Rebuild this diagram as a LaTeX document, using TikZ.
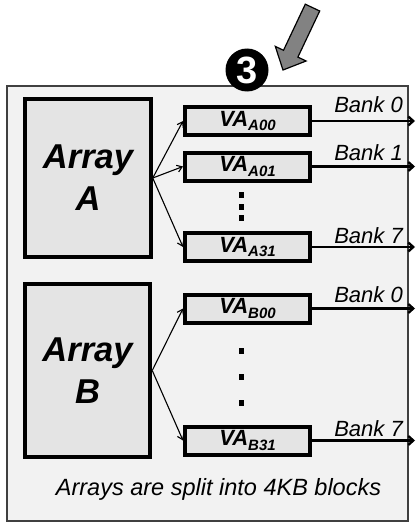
\documentclass[tikz,border=0pt]{standalone}
\usepackage{fontspec}
\setmainfont{Liberation Sans}
\usetikzlibrary{arrows.meta}
\definecolor{panelgray}{RGB}{242,242,242}
\definecolor{blockgray}{RGB}{228,228,228}
\definecolor{pointergray}{RGB}{130,130,130}
\newcommand{\vablock}[1]{{\fontsize{22}{22}\selectfont VA}\raisebox{-4.5pt}{\fontsize{15}{15}\selectfont #1}}

\begin{document}
\begin{tikzpicture}[x=1pt, y=-1pt,
		array/.style={draw=black, fill=blockgray, line width=4pt, minimum width=125.5pt,
			inner sep=0pt, align=center, font=\fontsize{34.5}{42}\selectfont\bfseries\itshape},
		vabox/.style={draw=black, fill=blockgray, line width=4pt, minimum width=125pt,
			minimum height=28pt, inner sep=0pt, font=\bfseries\itshape},
		fan/.style={-{Straight Barb[length=5pt,width=7pt]}, line width=1.1pt},
		bank/.style={-{Straight Barb[length=5pt,width=9pt]}, line width=2.3pt},
		banklabel/.style={anchor=base east, inner sep=0pt, font=\fontsize{22}{24}\selectfont\itshape},
		vdot/.style={fill=black, minimum width=5pt, minimum height=6.5pt, inner sep=0pt}
	]
		\useasboundingbox (0,0) rectangle (415,527);
		\draw[draw=black!75, fill=panelgray, line width=1.2pt] (7,86) rectangle (408,521);
		\node[circle, fill=black, minimum size=43pt, inner sep=0pt, text=white,
			font=\fontsize{38}{38}\selectfont\bfseries] (badge) at (247,70) {3};
		\draw[fill=pointergray, line width=1.2pt] (283,70) -- (306.1,61) -- (297.9,57.1) -- (319.7,11)
			-- (305.3,4.2) -- (283.5,50.3) -- (275.3,46.4) -- cycle;

		\node[array, minimum height=158pt] (arrA) at (88,178) {Array\\A};
		\node[array, minimum height=173pt] (arrB) at (87.5,370.5) {Array\\B};

		\node[vabox] (vaA00) at (247.5,121) {\vablock{A00}};
		\node[vabox] (vaA01) at (247.5,166.5) {\vablock{A01}};
		\node[vabox] (vaA31) at (247.5,247) {\vablock{A31}};
		\node[vabox] (vaB00) at (247.5,308.5) {\vablock{B00}};
		\node[vabox] (vaB31) at (247.5,440.5) {\vablock{B31}};

		\foreach \t in {vaA00,vaA01,vaA31}
			\draw[fan] (arrA.east) -- (\t.west);
		\foreach \t in {vaB00,vaB31}
			\draw[fan] (arrB.east) -- (\t.west);

		\coordinate (rim) at (415,0);
		\foreach \blk/\num/\lift in {A00/0/9,A01/1/6,A31/7/4,B00/0/6,B31/7/4} {
			\draw[bank] (va\blk.east) -- (va\blk.east -| rim);
			\path (va\blk.east -| rim) ++(-12,-\lift) node[banklabel] (lbl\blk) {Bank \num};
		}

		\foreach \y in {195,207,218}
			\node[vdot] (dotA\y) at (241,\y) {};
		\foreach \y in {351,377,403}
			\node[vdot] (dotB\y) at (241,\y) {};

		\node[anchor=base, font=\fontsize{23.5}{26}\selectfont\itshape] (caption) at (218.5,495)
			{Arrays are split into 4KB blocks};
	\end{tikzpicture}
\end{document}
